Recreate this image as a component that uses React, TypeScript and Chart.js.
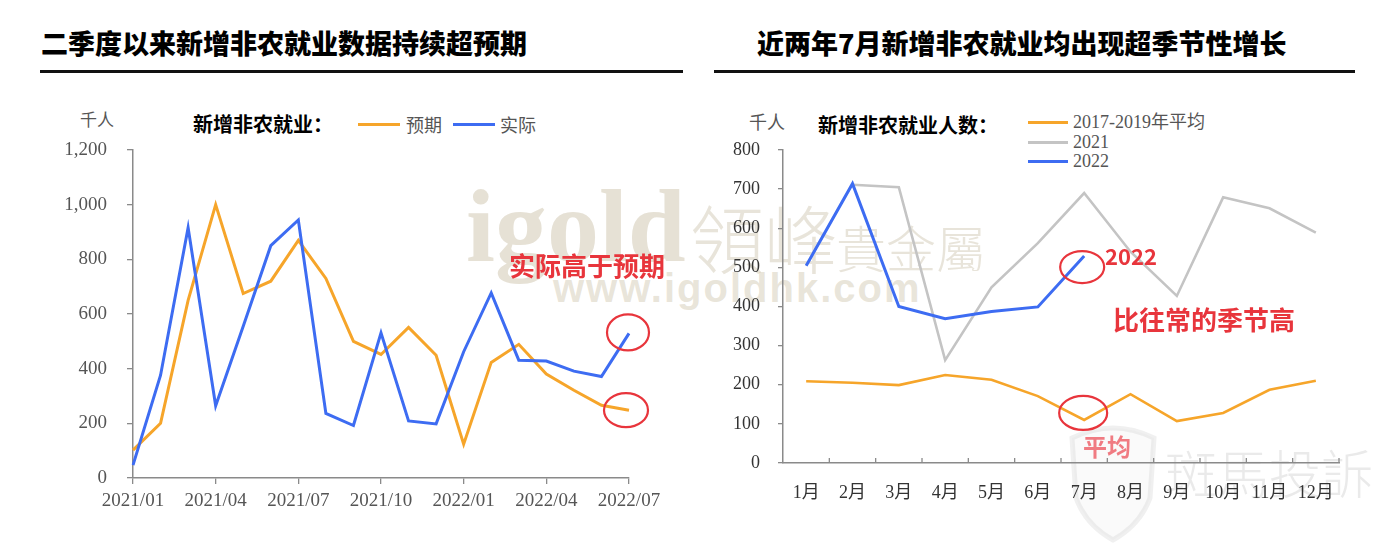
import React, { useEffect, useRef } from 'react';
import { Chart, registerables } from 'chart.js';

Chart.register(...registerables);

// ---------- data: left chart ----------
const leftMonths = [
  '2021/01', '2021/02', '2021/03', '2021/04', '2021/05', '2021/06', '2021/07',
  '2021/08', '2021/09', '2021/10', '2021/11', '2021/12', '2022/01', '2022/02',
  '2022/03', '2022/04', '2022/05', '2022/06', '2022/07',
];
const expectedNFP = [102, 200, 650, 1000, 675, 720, 869, 730, 500, 452, 551, 449, 124, 423, 489, 380, 321, 266, 248];
const actualNFP = [47, 376, 916, 264, 555, 850, 944, 236, 192, 531, 209, 198, 462, 677, 431, 428, 391, 371, 529];
const leftYMax = 1200;
const leftYStep = 200;

// ---------- data: right chart ----------
const rightMonths = ['1月', '2月', '3月', '4月', '5月', '6月', '7月', '8月', '9月', '10月', '11月', '12月'];
const avg2017to2019 = [209, 205, 199, 225, 213, 171, 110, 176, 107, 128, 187, 210];
const nfp2021 = [null, 711, 705, 263, 449, 562, 690, 540, 427, 679, 651, 589];
const nfp2022 = [504, 714, 400, 369, 387, 399, 529];
const rightYMax = 800;
const rightYStep = 100;

const ORANGE = '#F6A52A';
const BLUE = '#3D6CF2';
const GRAY = '#C4C4C4';
const RED = '#E8353C';
const AXIS = '#8A8A8A';
const TICK_FONT = '"Liberation Serif", "Noto Sans CJK SC", serif';
const CJK = '"Noto Sans CJK SC", "Noto Sans", sans-serif';

const notesPlugin = {
  id: 'notes',
  afterDatasetsDraw(chart: any, _args: any, opts: any) {
    const ctx = chart.ctx;
    ctx.save();
    if (opts.innerTicks) {
      const x = chart.scales.x;
      const n = x.getLabels().length;
      const step = x.getPixelForValue(1) - x.getPixelForValue(0);
      const y0 = chart.chartArea.bottom;
      ctx.strokeStyle = AXIS;
      ctx.lineWidth = 1.3;
      for (let i = 1; i <= n; i++) {
        const px = x.getPixelForValue(0) - step / 2 + i * step;
        ctx.beginPath();
        ctx.moveTo(px, y0);
        ctx.lineTo(px, y0 - 5);
        ctx.stroke();
      }
    }
    (opts.circles || []).forEach((c: any) => {
      const el = chart.getDatasetMeta(c.dataset).data[c.index];
      if (!el) return;
      ctx.beginPath();
      ctx.strokeStyle = RED;
      ctx.lineWidth = 2.2;
      ctx.ellipse(el.x + c.dx, el.y + c.dy, c.rx, c.ry, 0, 0, Math.PI * 2);
      ctx.stroke();
    });
    (opts.texts || []).forEach((t: any) => {
      ctx.font = t.font;
      ctx.fillStyle = t.color;
      ctx.textAlign = 'center';
      ctx.textBaseline = 'middle';
      ctx.fillText(t.text, t.x, t.y);
    });
    ctx.restore();
  },
};

function useChart(ref: React.RefObject<HTMLCanvasElement>, make: () => any) {
  useEffect(() => {
    if (!ref.current) return;
    const chart = new Chart(ref.current, make());
    return () => chart.destroy();
  }, []);
}

function LeftChart() {
  const ref = useRef<HTMLCanvasElement>(null);
  useChart(ref, () => ({
    type: 'line',
    data: {
      labels: leftMonths,
      datasets: [
        { label: '实际', data: actualNFP, borderColor: BLUE, borderWidth: 3, pointRadius: 0, tension: 0, order: 0 },
        { label: '预期', data: expectedNFP, borderColor: ORANGE, borderWidth: 3, pointRadius: 0, tension: 0, order: 1 },
      ],
    },
    plugins: [notesPlugin],
    options: {
      responsive: false,
      animation: false,
      layout: { padding: { left: 0, right: 71, top: 150, bottom: 0 } },
      plugins: {
        legend: { display: false },
        tooltip: { enabled: false },
        notes: {
          circles: [
            { dataset: 0, index: 18, dx: -1, dy: -1, rx: 21, ry: 18 },
            { dataset: 1, index: 18, dx: -3, dy: 0, rx: 22, ry: 17 },
          ],
          texts: [
            { text: '实际高于预期', x: 587, y: 266, font: `bold 26px ${CJK}`, color: RED },
          ],
        },
      },
      scales: {
        x: {
          offset: false,
          afterFit: (s: any) => { s.height = 66; },
          grid: { display: true, drawOnChartArea: false, drawTicks: true, tickLength: 6, color: AXIS, lineWidth: 1.3 },
          border: { display: true, color: AXIS, width: 1.5 },
          ticks: {
            autoSkip: false,
            maxRotation: 0,
            padding: 6,
            color: '#555',
            font: { family: TICK_FONT, size: 19 },
            callback: (_v: any, i: number) => (i % 3 === 0 ? leftMonths[i] : null),
          },
        },
        y: {
          min: 0,
          max: leftYMax,
          afterFit: (s: any) => { s.width = 133; },
          grid: { display: true, drawOnChartArea: false, drawTicks: true, tickLength: 6, color: AXIS, lineWidth: 1.3 },
          border: { display: true, color: AXIS, width: 1.5 },
          ticks: {
            stepSize: leftYStep,
            padding: 20,
            color: '#555',
            font: { family: TICK_FONT, size: 19 },
            callback: (v: number) => v.toLocaleString('en-US'),
          },
        },
      },
    },
  }));
  return <canvas ref={ref} width={700} height={544} style={{ position: 'absolute', left: 0, top: 0, width: 700, height: 544 }} />;
}

function RightChart() {
  const ref = useRef<HTMLCanvasElement>(null);
  useChart(ref, () => ({
    type: 'line',
    data: {
      labels: rightMonths,
      datasets: [
        { label: '2017-2019年平均', data: avg2017to2019, borderColor: ORANGE, borderWidth: 2.6, pointRadius: 0, tension: 0, order: 2 },
        { label: '2021', data: nfp2021, borderColor: GRAY, borderWidth: 2.6, pointRadius: 0, tension: 0, order: 1 },
        { label: '2022', data: nfp2022, borderColor: BLUE, borderWidth: 3, pointRadius: 0, tension: 0, order: 0 },
      ],
    },
    plugins: [notesPlugin],
    options: {
      responsive: false,
      animation: false,
      layout: { padding: { left: 0, right: 51, top: 150, bottom: 0 } },
      plugins: {
        legend: { display: false },
        tooltip: { enabled: false },
        notes: {
          innerTicks: true,
          circles: [
            { dataset: 2, index: 6, dx: -2, dy: 11, rx: 22, ry: 16 },
            { dataset: 0, index: 6, dx: -1, dy: -7, rx: 24, ry: 17 },
          ],
          texts: [
            { text: '2022', x: 431, y: 257, font: `bold 22px ${CJK}`, color: RED },
            { text: '比往常的季节高', x: 504, y: 320, font: `bold 26px ${CJK}`, color: RED },
            { text: '平均', x: 407, y: 447, font: `bold 24px ${CJK}`, color: 'rgba(236,80,90,0.75)' },
          ],
        },
      },
      scales: {
        x: {
          offset: true,
          afterFit: (s: any) => { s.height = 81; },
          grid: { display: false, drawOnChartArea: false, drawTicks: false },
          border: { display: true, color: AXIS, width: 1.5 },
          ticks: {
            autoSkip: false,
            maxRotation: 0,
            padding: 19,
            color: '#333',
            font: { family: TICK_FONT, size: 18 },
          },
        },
        y: {
          min: 0,
          max: rightYMax,
          afterFit: (s: any) => { s.width = 83; },
          grid: { display: true, drawOnChartArea: false, drawTicks: true, tickLength: 5, color: AXIS, lineWidth: 1.3 },
          border: { display: true, color: AXIS, width: 1.5 },
          ticks: {
            stepSize: rightYStep,
            padding: 18,
            color: '#333',
            font: { family: TICK_FONT, size: 18 },
          },
        },
      },
    },
  }));
  return <canvas ref={ref} width={690} height={544} style={{ position: 'absolute', left: 700, top: 0, width: 690, height: 544 }} />;
}

function Txt(props: { x: number; cy: number; size: number; children: any; color?: string; weight?: number; family?: string; spacing?: number }) {
  const lh = Math.round(props.size * 1.4);
  return (
    <div
      style={{
        position: 'absolute',
        left: props.x,
        top: props.cy - lh / 2,
        height: lh,
        lineHeight: `${lh}px`,
        fontSize: props.size,
        fontWeight: props.weight ?? 400,
        fontFamily: props.family ?? CJK,
        color: props.color ?? '#000',
        whiteSpace: 'nowrap',
        letterSpacing: props.spacing ?? 0,
      }}
    >
      {props.children}
    </div>
  );
}

function Seg(props: { x1: number; x2: number; y: number; color: string; w?: number }) {
  const w = props.w ?? 3;
  return <div style={{ position: 'absolute', left: props.x1, top: props.y - w / 2, width: props.x2 - props.x1, height: w, background: props.color }} />;
}

const SERIF = '"Liberation Serif", "Noto Sans CJK SC", serif';

export default function App() {
  return (
    <div style={{ position: 'fixed', left: 0, top: 0, width: 1390, height: 544, background: '#fff', overflow: 'hidden' }}>
      {/* watermarks */}
      <div style={{ position: 'absolute', inset: 0, zIndex: 0 }}>
        <div style={{ position: 'absolute', left: 466, top: 268 - 94, fontFamily: '"Liberation Serif", serif', fontWeight: 700, fontSize: 104, lineHeight: '104px', color: 'rgba(205,196,172,0.5)' }}>igold</div>
        <div style={{ position: 'absolute', left: 690, top: 196, fontFamily: '"Noto Sans CJK TC", sans-serif', fontWeight: 300, fontSize: 74, lineHeight: '80px', color: 'rgba(205,196,172,0.45)' }}>領峰</div>
        <div style={{ position: 'absolute', left: 836, top: 218, fontFamily: '"Noto Sans CJK TC", sans-serif', fontWeight: 300, fontSize: 50, lineHeight: '56px', color: 'rgba(205,196,172,0.45)' }}>貴金屬</div>
        <div style={{ position: 'absolute', left: 553, top: 266, fontFamily: '"Liberation Sans", sans-serif', fontWeight: 700, fontSize: 40, lineHeight: '44px', letterSpacing: 2, color: 'rgba(205,196,172,0.45)' }}>www.igoldhk.com</div>
        <svg style={{ position: 'absolute', left: 0, top: 0 }} width={1390} height={544}>
          <path d="M1072 438 Q1113 418 1154 438 L1150 498 Q1140 525 1113 540 Q1086 525 1076 498 Z" fill="rgba(215,215,215,0.12)" stroke="rgba(200,200,200,0.28)" strokeWidth={5} />
        </svg>
        <div style={{ position: 'absolute', left: 1165, top: 442, fontFamily: '"Noto Sans CJK TC", sans-serif', fontWeight: 300, fontSize: 52, lineHeight: '60px', color: 'rgba(190,190,190,0.32)' }}>斑馬投訴</div>
      </div>

      <div style={{ position: 'absolute', inset: 0, zIndex: 1 }}>
        {/* titles */}
        <Txt x={41} cy={43} size={27} weight={900}>二季度以来新增非农就业数据持续超预期</Txt>
        <Seg x1={40} x2={683} y={71} color="#111" w={3} />
        <Txt x={757} cy={43} size={27} weight={900}>近两年7月新增非农就业均出现超季节性增长</Txt>
        <Seg x1={714} x2={1355} y={71} color="#111" w={3} />

        {/* left legend */}
        <Txt x={80} cy={119} size={17} color="#555">千人</Txt>
        <Txt x={193} cy={124} size={20} weight={700}>新增非农就业：</Txt>
        <Seg x1={358} x2={400} y={124} color={ORANGE} />
        <Txt x={406} cy={124} size={18} color="#555">预期</Txt>
        <Seg x1={453} x2={495} y={124} color={BLUE} />
        <Txt x={500} cy={124} size={18} color="#555">实际</Txt>

        {/* right legend */}
        <Txt x={749} cy={121} size={18} color="#555">千人</Txt>
        <Txt x={818} cy={125} size={20} weight={700}>新增非农就业人数：</Txt>
        <Seg x1={1028} x2={1068} y={122} color={ORANGE} />
        <Txt x={1073} cy={122} size={18} color="#555" family={SERIF}>2017-2019年平均</Txt>
        <Seg x1={1028} x2={1068} y={142} color={GRAY} />
        <Txt x={1073} cy={142} size={18} color="#555" family={SERIF}>2021</Txt>
        <Seg x1={1028} x2={1068} y={161} color={BLUE} />
        <Txt x={1073} cy={161} size={18} color="#555" family={SERIF}>2022</Txt>

        <LeftChart />
        <RightChart />
      </div>
    </div>
  );
}
